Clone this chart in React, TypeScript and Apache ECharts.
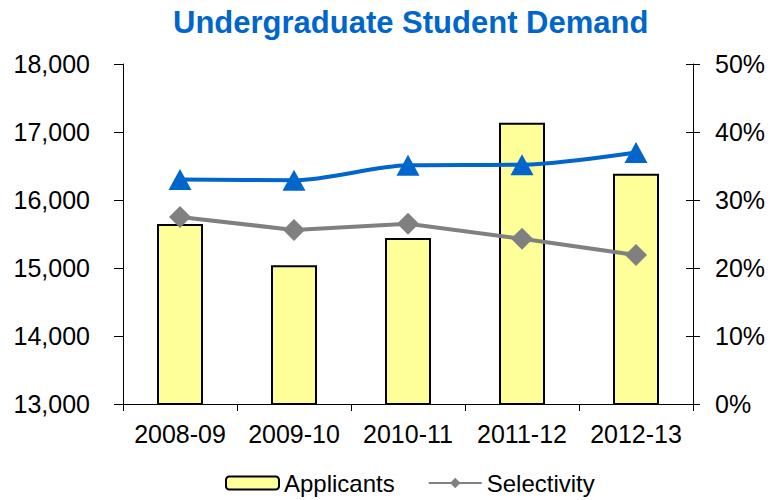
import React, { useEffect, useRef } from "react";
import * as echarts from "echarts";

const categories = ["2008-09", "2009-10", "2010-11", "2011-12", "2012-13"];
const applicants = [15647, 15042, 15441, 17135, 16387];
const selectivity = [0.275, 0.256, 0.265, 0.243, 0.219];
const yieldRate = [0.33, 0.329, 0.351, 0.352, 0.37];
const titleText = "Undergraduate Student Demand";

const FONT = "'Liberation Sans', Arial, sans-serif";

export default function App() {
  const ref = useRef<HTMLDivElement>(null);
  useEffect(() => {
    if (!ref.current) return;
    const chart = echarts.init(ref.current, undefined, { renderer: "svg" });
    chart.setOption({
      animation: false,
      backgroundColor: "#fff",
      title: {
        text: titleText,
        left: 168,
        top: 2,
        textStyle: { color: "#0066CC", fontSize: 31, fontWeight: "bold", fontFamily: FONT },
      },
      legend: {
        left: 225,
        top: 471,
        padding: 0,
        itemWidth: 53,
        itemHeight: 13,
        itemGap: 33,
        data: ["Applicants", "Selectivity"],
        textStyle: { color: "#000", fontSize: 24, fontFamily: FONT, padding: [0, 0, 0, 0] },
      },
      grid: { left: 123, right: 78, top: 64, bottom: 96, containLabel: false },
      xAxis: {
        type: "category",
        data: categories,
        axisLine: { lineStyle: { color: "#000", width: 1 } },
        axisTick: { show: true, length: 7, lineStyle: { color: "#000" } },
        axisLabel: { color: "#000", fontSize: 25, fontFamily: FONT, margin: 17, interval: 0 },
      },
      yAxis: [
        {
          type: "value",
          min: 13000,
          max: 18000,
          interval: 1000,
          position: "left",
          splitLine: { show: false },
          axisLine: { show: true, lineStyle: { color: "#000" } },
          axisTick: { show: true, length: 9, lineStyle: { color: "#000" } },
          axisLabel: {
            color: "#000",
            fontSize: 25,
            fontFamily: FONT,
            margin: 33,
            formatter: (v: number) => v.toLocaleString("en-US"),
          },
        },
        {
          type: "value",
          min: 0,
          max: 0.5,
          interval: 0.1,
          position: "right",
          splitLine: { show: false },
          axisLine: { show: true, lineStyle: { color: "#000" } },
          axisTick: { show: true, length: 7, lineStyle: { color: "#000" } },
          axisLabel: {
            color: "#000",
            fontSize: 25,
            fontFamily: FONT,
            margin: 22,
            formatter: (v: number) => Math.round(v * 100) + "%",
          },
        },
        {
          type: "value",
          min: 0,
          max: 0.5,
          interval: 0.1,
          position: "right",
          splitLine: { show: false },
          axisLine: { show: false },
          axisTick: { show: true, inside: true, length: 7, lineStyle: { color: "#000" } },
          axisLabel: { show: false },
        },
      ],
      series: [
        {
          name: "Applicants",
          type: "bar",
          data: applicants,
          barWidth: 46,
          yAxisIndex: 0,
          itemStyle: { color: "#FFFF99", borderColor: "#000", borderWidth: 2 },
        },
        {
          name: "Yield",
          type: "line",
          data: yieldRate,
          yAxisIndex: 1,
          smooth: 0.3,
          symbol: "triangle",
          symbolSize: [23, 21],
          lineStyle: { color: "#0066CC", width: 4 },
          itemStyle: { color: "#0066CC" },
        },
        {
          name: "Selectivity",
          type: "line",
          data: selectivity,
          yAxisIndex: 1,
          symbol: "diamond",
          symbolSize: 22,
          lineStyle: { color: "#808080", width: 4 },
          itemStyle: { color: "#808080" },
        },
      ],
    });
    return () => chart.dispose();
  }, []);
  return (
    <div
      ref={ref}
      style={{ position: "fixed", left: 0, top: 0, width: 771, height: 500 }}
    />
  );
}
